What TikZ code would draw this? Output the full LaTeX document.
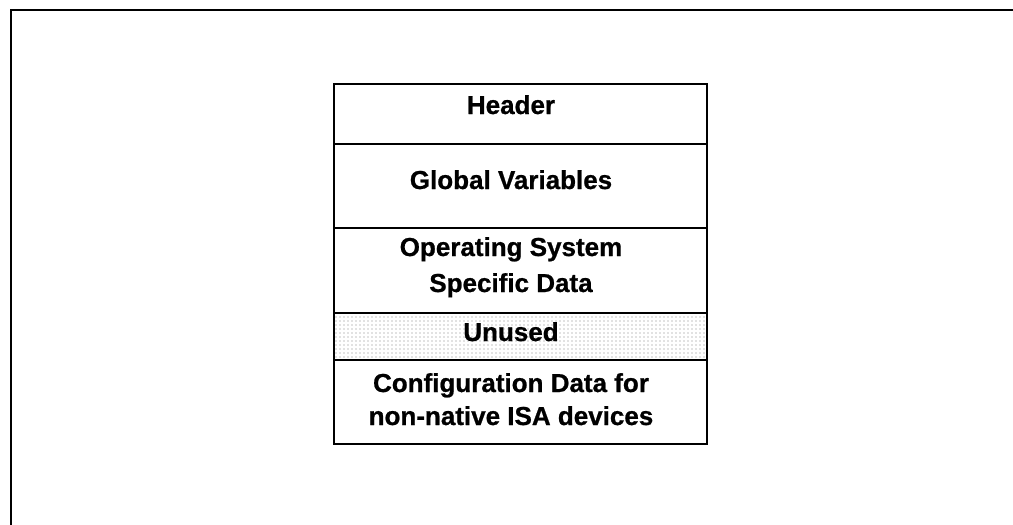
\documentclass[tikz,border=0pt]{standalone}
\usepackage{fontspec}
\setmainfont{Liberation Sans}
\newfontfamily\heavyfont{Liberation Sans}[BoldFeatures={FakeBold=0.8}]
\usetikzlibrary{patterns.meta}
\begin{document}
\begin{tikzpicture}[x=0.5pt,y=-0.5pt,
  lbl/.style={font=\heavyfont\fontsize{13}{15}\selectfont\bfseries, anchor=base, inner sep=0pt},
  rowbox/.style={draw=black, line width=1pt},
  frameline/.style={draw=black, line width=1pt}]
\useasboundingbox (0,0) rectangle (1013,525);
% outer frame (open at right and bottom)
\draw[frameline] (11,525) -- (11,10) -- (1013,10);
% unused band shading
\fill[pattern={Dots[distance=2pt,radius=0.3pt]}, pattern color=gray] (334,313) rectangle (707,360);
% rows
\draw[rowbox] (334,84) rectangle (707,144);
\draw[rowbox] (334,144) rectangle (707,228);
\draw[rowbox] (334,228) rectangle (707,313);
\draw[rowbox] (334,313) rectangle (707,360);
\draw[rowbox] (334,360) rectangle (707,444);
% labels
\node[lbl] (header) at (511,114) {Header};
\node[lbl] (global) at (511,189) {Global Variables};
\node[lbl] (os1) at (511,256) {Operating System};
\node[lbl] (os2) at (511,292) {Specific Data};
\node[lbl] (unused) at (511,341) {Unused};
\node[lbl] (cfg1) at (511,392) {Configuration Data for};
\node[lbl] (cfg2) at (511,425) {non-native ISA devices};
\end{tikzpicture}
\end{document}
